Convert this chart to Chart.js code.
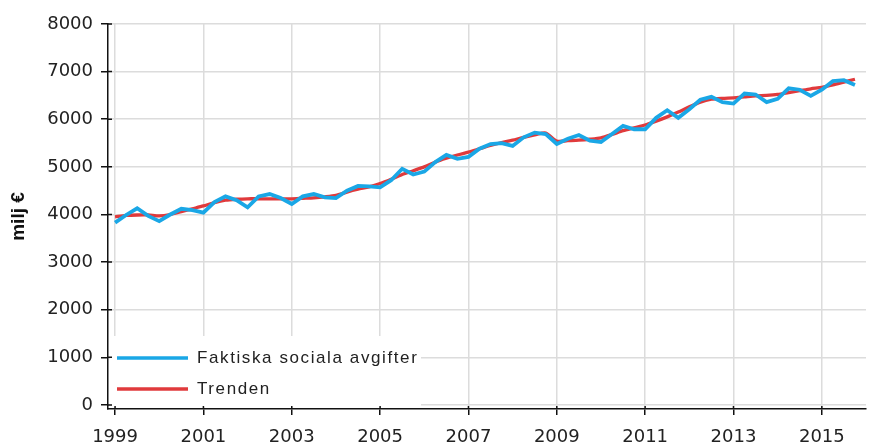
<!DOCTYPE html>
<html>
<head>
<meta charset="utf-8">
<script src="https://cdn.jsdelivr.net/npm/chart.js@4.4.1/dist/chart.umd.min.js"></script>
<style>
  html, body { margin: 0; padding: 0; background: #fff; }
  #wrap { width: 869px; height: 446px; }
</style>
</head>
<body>
<div id="wrap"><canvas id="chart" width="869" height="446"></canvas></div>
<script>
// quarterly data, 1999K1 .. 2015K4
const quarters = [
  '1999K1','1999K2','1999K3','1999K4','2000K1','2000K2','2000K3','2000K4',
  '2001K1','2001K2','2001K3','2001K4','2002K1','2002K2','2002K3','2002K4',
  '2003K1','2003K2','2003K3','2003K4','2004K1','2004K2','2004K3','2004K4',
  '2005K1','2005K2','2005K3','2005K4','2006K1','2006K2','2006K3','2006K4',
  '2007K1','2007K2','2007K3','2007K4','2008K1','2008K2','2008K3','2008K4',
  '2009K1','2009K2','2009K3','2009K4','2010K1','2010K2','2010K3','2010K4',
  '2011K1','2011K2','2011K3','2011K4','2012K1','2012K2','2012K3','2012K4',
  '2013K1','2013K2','2013K3','2013K4','2014K1','2014K2','2014K3','2014K4',
  '2015K1','2015K2','2015K3','2015K4'
];

const faktiska = [
  3830, 3990, 4130, 3970, 3860, 4000, 4120, 4090,
  4040, 4260, 4380, 4300, 4150, 4380, 4430, 4345,
  4220, 4380, 4430, 4360, 4345, 4500, 4600, 4590,
  4570, 4720, 4960, 4840, 4900, 5100, 5250, 5170,
  5210, 5380, 5480, 5500, 5440, 5620, 5720, 5690,
  5480, 5590, 5670, 5550, 5520, 5690, 5860, 5790,
  5790, 6030, 6190, 6030, 6210, 6410, 6470, 6360,
  6330, 6540, 6520, 6360, 6430, 6650, 6620, 6490,
  6620, 6800, 6820, 6720
];

const trenden = [
  3950, 3980, 3990, 3990, 3970, 4000, 4060, 4120,
  4180, 4250, 4300, 4320, 4330, 4330, 4330, 4330,
  4330, 4340, 4350, 4370, 4400, 4470, 4530, 4580,
  4650, 4740, 4840, 4920, 5000, 5100, 5180, 5250,
  5310, 5380, 5450, 5510, 5560, 5620, 5670, 5710,
  5540, 5550, 5560, 5580, 5610, 5680, 5760, 5820,
  5880, 5960, 6050, 6150, 6260, 6360, 6420, 6440,
  6450, 6470, 6490, 6500, 6520, 6560, 6600, 6640,
  6670, 6720, 6780, 6840
];

const yearTicks = [1999, 2001, 2003, 2005, 2007, 2009, 2011, 2013, 2015];
const valueTicks = [0, 1000, 2000, 3000, 4000, 5000, 6000, 7000, 8000];

const seriesNames = ['Faktiska sociala avgifter', 'Trenden'];
const seriesColors = ['#1aa7e6', '#e03a3c'];

// quarter label -> position on a year axis
function quarterPos(label) {
  const year = parseInt(label.slice(0, 4), 10);
  const q = parseInt(label.slice(5), 10);
  return year + (q - 1) / 4;
}

function toPoints(values) {
  return values.map((v, i) => ({ x: quarterPos(quarters[i]), y: v }));
}

const tickFont = { family: 'DejaVu Sans', size: 18 };

// legend sits inside the plot, bottom-left, on a white box
const insideLegend = {
  id: 'insideLegend',
  beforeDatasetsDraw(chart) {
    const ctx = chart.ctx;
    ctx.save();
    ctx.fillStyle = '#fff';
    ctx.fillRect(110, 336, 311, 71);

    const rows = [358, 389];
    rows.forEach((y, i) => {
      ctx.strokeStyle = seriesColors[i];
      ctx.lineWidth = 3.5;
      ctx.beginPath();
      ctx.moveTo(117, y);
      ctx.lineTo(188, y);
      ctx.stroke();

      ctx.fillStyle = '#222';
      ctx.font = '17px "Liberation Sans", Arial, sans-serif';
      ctx.letterSpacing = '1.6px';
      ctx.textBaseline = 'middle';
      ctx.textAlign = 'left';
      ctx.fillText(seriesNames[i], 197, y);
    });
    ctx.restore();
  },
  // short tick stubs on the inner side of both axes
  afterDraw(chart) {
    const ctx = chart.ctx;
    const { x, y } = chart.scales;
    ctx.save();
    ctx.strokeStyle = '#111';
    ctx.lineWidth = 1.5;
    ctx.beginPath();
    valueTicks.forEach(v => {
      const py = y.getPixelForValue(v);
      ctx.moveTo(x.left, py);
      ctx.lineTo(x.left + 4, py);
    });
    yearTicks.forEach(v => {
      const px = x.getPixelForValue(v);
      ctx.moveTo(px, y.bottom);
      ctx.lineTo(px, y.bottom - 3);
    });
    ctx.stroke();
    ctx.restore();
  }
};

new Chart(document.getElementById('chart'), {
  type: 'line',
  data: {
    datasets: [
      {
        label: seriesNames[0],
        data: toPoints(faktiska),
        borderColor: seriesColors[0],
        borderWidth: 3.8,
        pointRadius: 0,
        tension: 0
      },
      {
        label: seriesNames[1],
        data: toPoints(trenden),
        borderColor: seriesColors[1],
        borderWidth: 3.3,
        pointRadius: 0,
        tension: 0.25
      }
    ]
  },
  options: {
    responsive: false,
    animation: false,
    layout: { padding: { top: 24, right: 3, left: 0, bottom: 0 } },
    plugins: {
      legend: { display: false },
      tooltip: { enabled: false }
    },
    scales: {
      x: {
        type: 'linear',
        min: 1998.84,
        max: 2016,
        afterBuildTicks(scale) {
          scale.ticks = yearTicks.map(v => ({ value: v }));
        },
        afterFit(scale) { scale.height = 37; },
        ticks: {
          font: tickFont,
          color: '#222',
          padding: 12,
          maxRotation: 0,
          autoSkip: false,
          callback: v => String(v)
        },
        grid: {
          color: '#dcdcdc',
          lineWidth: 1.5,
          tickColor: '#111',
          tickLength: 6
        },
        border: { color: '#111', width: 1.5 }
      },
      y: {
        min: -84,
        max: 8000,
        afterBuildTicks(scale) {
          scale.ticks = valueTicks.map(v => ({ value: v }));
        },
        afterFit(scale) { scale.width = 108; },
        ticks: {
          font: tickFont,
          color: '#222',
          padding: 8,
          callback: v => String(v)
        },
        grid: {
          color: '#dcdcdc',
          lineWidth: 1.5,
          tickColor: '#111',
          tickLength: 7
        },
        border: { color: '#111', width: 1.5 },
        title: {
          display: true,
          text: 'milj €',
          color: '#111',
          font: { family: 'Liberation Sans', size: 19, weight: 'bold' },
          padding: { top: 7, bottom: 0 }
        }
      }
    }
  },
  plugins: [insideLegend]
});
</script>
</body>
</html>
